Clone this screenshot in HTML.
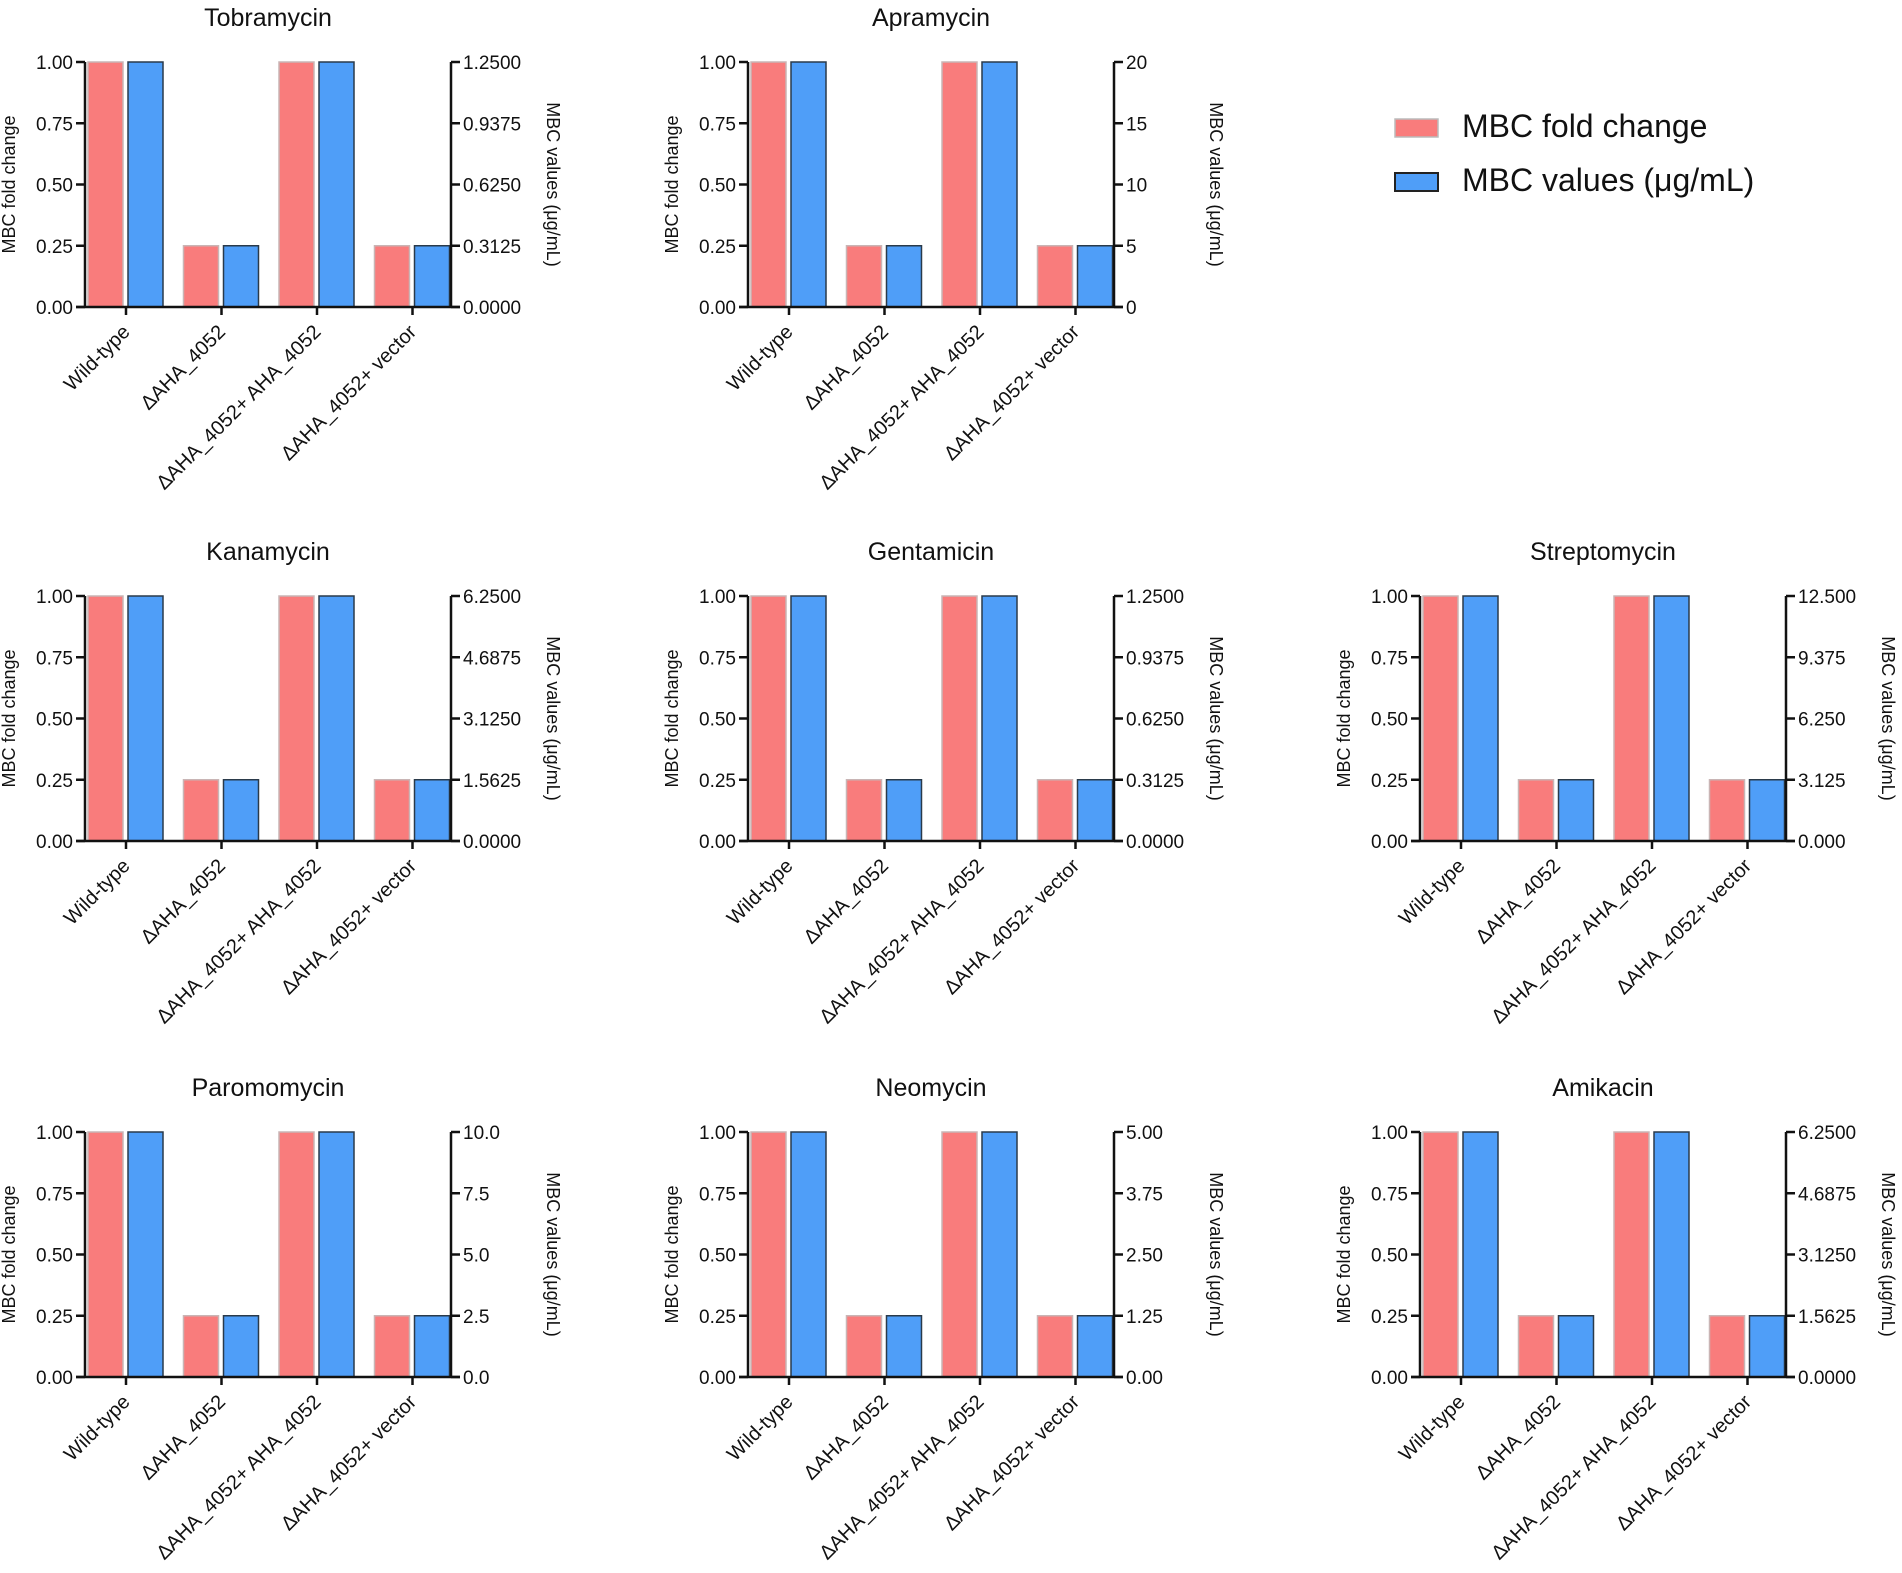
<!DOCTYPE html>
<html><head><meta charset="utf-8">
<style>
html,body{margin:0;padding:0;background:#fff;}
svg{display:block;font-family:"Liberation Sans",Arial,sans-serif;}
</style></head>
<body>
<svg id="fig" width="1902" height="1573" viewBox="0 0 1902 1573">
  <g>
    <g>
      <rect x="1395" y="119" width="43" height="18" fill="#F97C7C" stroke="#bbb" stroke-width="1.5"/>
      <text x="1462" y="137" font-size="32" fill="#111">MBC fold change</text>
    </g>
    <g>
      <rect x="1395" y="173" width="43" height="18" fill="#4F9EF8" stroke="#222" stroke-width="2"/>
      <text x="1462" y="191" font-size="32" fill="#111">MBC values (μg/mL)</text>
    </g>
  </g>
</svg>
<script>
const categories = ["Wild-type", "ΔAHA_4052", "ΔAHA_4052+ AHA_4052", "ΔAHA_4052+ vector"];
const antibiotics = ["Tobramycin","Apramycin","Kanamycin","Gentamicin","Streptomycin","Paromomycin","Neomycin","Amikacin"];
const foldChange = [
  [1,0.25,1,0.25],[1,0.25,1,0.25],[1,0.25,1,0.25],[1,0.25,1,0.25],
  [1,0.25,1,0.25],[1,0.25,1,0.25],[1,0.25,1,0.25],[1,0.25,1,0.25]
];
const mbcValues = [
  [1.25,0.3125,1.25,0.3125],
  [20,5,20,5],
  [6.25,1.5625,6.25,1.5625],
  [1.25,0.3125,1.25,0.3125],
  [12.5,3.125,12.5,3.125],
  [10,2.5,10,2.5],
  [5,1.25,5,1.25],
  [6.25,1.5625,6.25,1.5625]
];
const leftTicks = [0,0.25,0.5,0.75,1.0];
const leftTickLabels = ["0.00","0.25","0.50","0.75","1.00"];
const rightMax = [1.25,20,6.25,1.25,12.5,10,5,6.25];
const rightDecimals = [4,0,4,4,3,1,2,4];

const svg = document.getElementById('fig');
const NS = 'http://www.w3.org/2000/svg';
function mk(tag, attrs, parent){
  const e = document.createElementNS(NS, tag);
  for (const k in attrs) e.setAttribute(k, attrs[k]);
  parent.appendChild(e);
  return e;
}
const colX = [85, 748, 1420];
const rowTop = [62, 596, 1132];
const slots = [[0,0],[0,1],[1,0],[1,1],[1,2],[2,0],[2,1],[2,2]];
const W = 366, H = 245;

antibiotics.forEach((name, p) => {
  const x0 = colX[slots[p][1]], y0 = rowTop[slots[p][0]], yb = y0 + H, xr = x0 + W;
  const g = mk('g', {}, svg);
  
  
  const yL = v => yb - v / 1.0 * H;
  const yR = v => yb - v / rightMax[p] * H;
  const gx = i => x0 + 41 + i * 95.5;

  const t = mk('text', {x: x0 + W/2, y: y0 - 36, 'text-anchor':'middle', 'font-size':25, fill:'#111'}, g);
  t.textContent = name;
  
  

  categories.forEach((c, i) => {
    const cx = gx(i);
    const yf = yL(foldChange[p][i]);
    const b1 = mk('rect', {x: cx - 38, y: yf, width: 35, height: yb - yf, fill:'#F97C7C', stroke:'#c9b5b5', 'stroke-width':1.5}, g);
    
    
    const ym = yR(mbcValues[p][i]);
    const b2 = mk('rect', {x: cx + 2, y: ym, width: 35, height: yb - ym, fill:'#4F9EF8', stroke:'#2a3a4a', 'stroke-width':1.5}, g);
    
    
    mk('line', {x1: cx, x2: cx, y1: yb, y2: yb + 8, stroke:'#111', 'stroke-width':2.5}, g);
    const lab = mk('text', {x: cx + 5, y: yb + 26, 'text-anchor':'end', 'font-size':20, fill:'#111', transform:`rotate(-45 ${cx+5} ${yb+26})`}, g);
    lab.textContent = c;
    
    
  });

  mk('line', {x1: x0, x2: x0, y1: y0, y2: yb, stroke:'#111', 'stroke-width':2.5}, g);
  mk('line', {x1: xr, x2: xr, y1: y0, y2: yb, stroke:'#111', 'stroke-width':2.5}, g);
  mk('line', {x1: x0 - 9, x2: xr + 9, y1: yb, y2: yb, stroke:'#111', 'stroke-width':2.5}, g);

  leftTicks.forEach((v, k) => {
    const y = yL(v);
    mk('line', {x1: x0 - 9, x2: x0, y1: y, y2: y, stroke:'#111', 'stroke-width':2.5}, g);
    const tl = mk('text', {x: x0 - 12, y: y + 7, 'text-anchor':'end', 'font-size':19, fill:'#111'}, g);
    tl.textContent = leftTickLabels[k];
    
    
    const rv = rightMax[p] * v;
    const yr = yR(rv);
    mk('line', {x1: xr, x2: xr + 9, y1: yr, y2: yr, stroke:'#111', 'stroke-width':2.5}, g);
    const tr = mk('text', {x: xr + 12, y: yr + 7, 'font-size':19, fill:'#111'}, g);
    tr.textContent = rv.toFixed(rightDecimals[p]);
    
    
  });

  const lx = x0 - 70, ly = y0 + H/2;
  const at = mk('text', {x: lx, y: ly, 'text-anchor':'middle', 'font-size':18, fill:'#111', transform:`rotate(-90 ${lx} ${ly})`}, g);
  at.textContent = 'MBC fold change';
  
  
  const rx = xr + 96;
  const ar = mk('text', {x: rx, y: ly, 'text-anchor':'middle', 'font-size':18, fill:'#111', transform:`rotate(90 ${rx} ${ly})`}, g);
  ar.textContent = 'MBC values (μg/mL)';
  
  
});
</script>
</body></html>
